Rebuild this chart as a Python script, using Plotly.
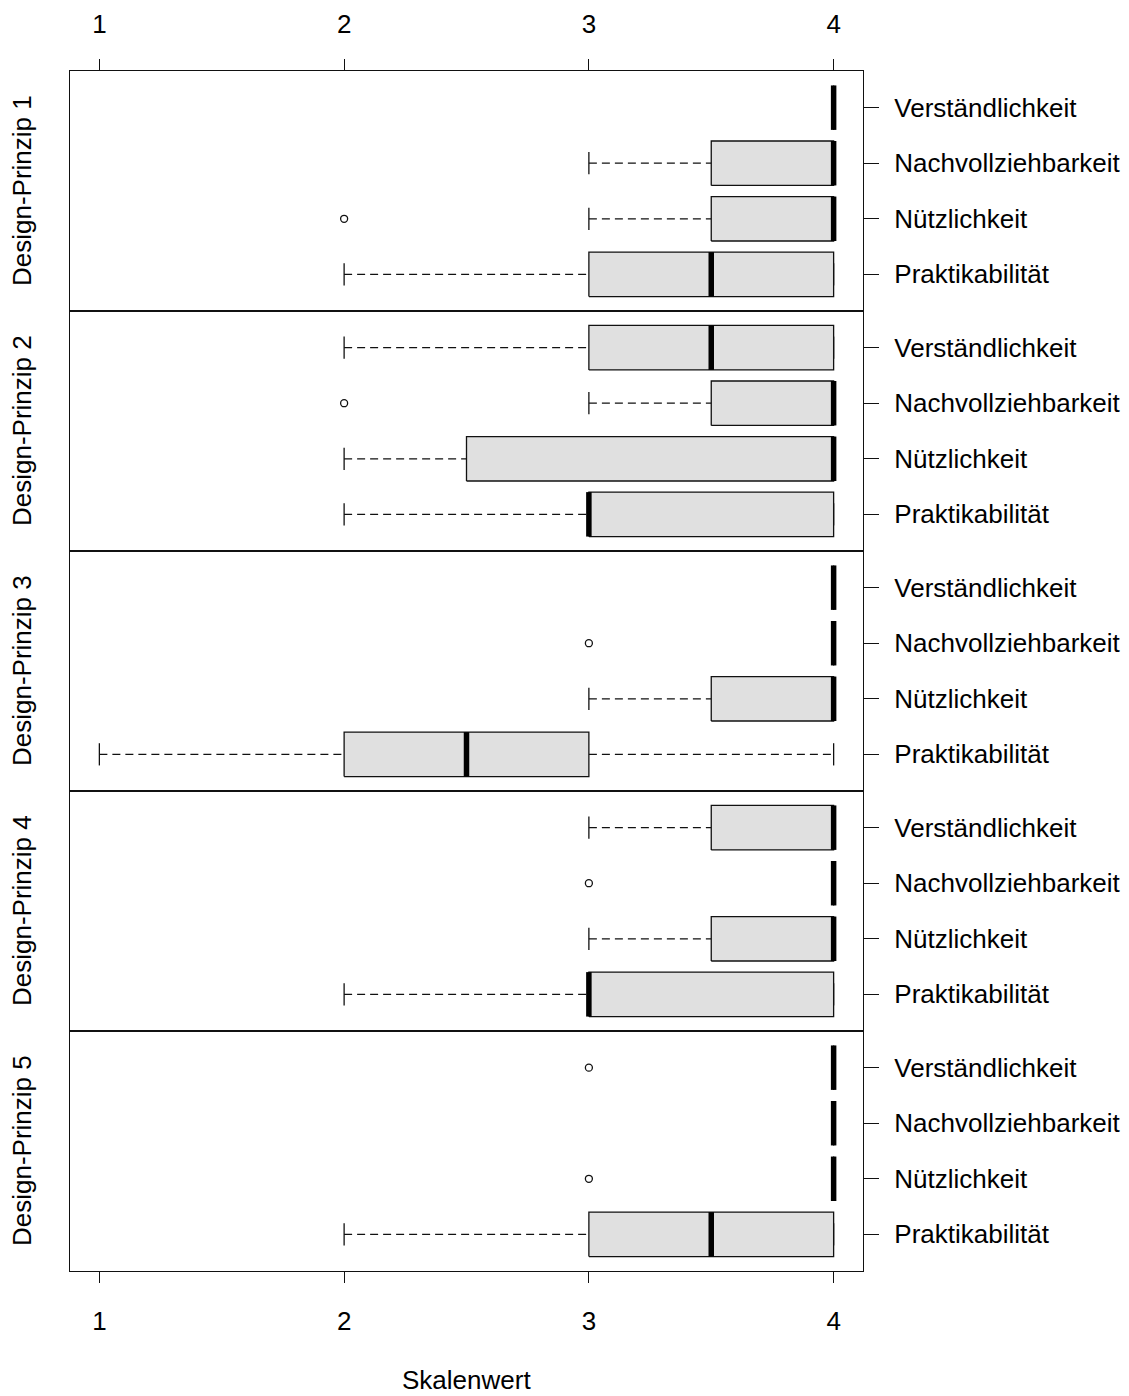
import plotly.graph_objects as go
from plotly.subplots import make_subplots

# ---------------- data ----------------
panels = ["Design-Prinzip 1", "Design-Prinzip 2", "Design-Prinzip 3",
          "Design-Prinzip 4", "Design-Prinzip 5"]
# categories from bottom (position 1) to top (position 4)
items = ["Praktikabilität", "Nützlichkeit", "Nachvollziehbarkeit", "Verständlichkeit"]

whisker_lo = [[2, 3, 3, 4], [2, 2, 3, 2], [1, 3, 4, 4], [2, 3, 4, 3], [2, 4, 4, 4]]
q1         = [[3, 3.5, 3.5, 4], [3, 2.5, 3.5, 3], [2, 3.5, 4, 4], [3, 3.5, 4, 3.5], [3, 4, 4, 4]]
median     = [[3.5, 4, 4, 4], [3, 4, 4, 3.5], [2.5, 4, 4, 4], [3, 4, 4, 4], [3.5, 4, 4, 4]]
q3         = [[4, 4, 4, 4], [4, 4, 4, 4], [3, 4, 4, 4], [4, 4, 4, 4], [4, 4, 4, 4]]
whisker_hi = [[4, 4, 4, 4], [4, 4, 4, 4], [4, 4, 4, 4], [4, 4, 4, 4], [4, 4, 4, 4]]
outliers   = [[[], [2], [], []], [[], [], [2], []], [[], [], [3], []],
              [[], [], [3], []], [[], [3], [], [3]]]

x_ticks = [1, 2, 3, 4]
x_title = "Skalenwert"

# ---------------- style ----------------
FONT = "Liberation Sans, Arial, sans-serif"
FS = 26
BOXW = 0.4      # half box width (boxwex 0.8)
STAPLE = 0.2    # half staple length
LINE_C = "#111111"

fig = make_subplots(rows=5, cols=1, vertical_spacing=0)

for p in range(len(panels)):
    row = p + 1
    for i in range(len(items)):
        pos = i + 1
        lo, a, m, b, hi = whisker_lo[p][i], q1[p][i], median[p][i], q3[p][i], whisker_hi[p][i]
        # whiskers (dashed)
        fig.add_trace(go.Scatter(
            x=[lo, a, None, b, hi], y=[pos, pos, None, pos, pos], mode="lines",
            line=dict(color=LINE_C, width=1.3, dash="8px,5px"),
            hoverinfo="skip", showlegend=False), row=row, col=1)
        # staples
        fig.add_trace(go.Scatter(
            x=[lo, lo, None, hi, hi],
            y=[pos - STAPLE, pos + STAPLE, None, pos - STAPLE, pos + STAPLE],
            mode="lines", line=dict(color=LINE_C, width=1.3),
            hoverinfo="skip", showlegend=False), row=row, col=1)
        # box
        fig.add_trace(go.Scatter(
            x=[a, b, b, a, a],
            y=[pos - BOXW, pos - BOXW, pos + BOXW, pos + BOXW, pos - BOXW],
            mode="lines", fill="toself", fillcolor="#e0e0e0",
            line=dict(color=LINE_C, width=1.3),
            hoverinfo="skip", showlegend=False), row=row, col=1)
        # median
        fig.add_trace(go.Scatter(
            x=[m, m], y=[pos - BOXW, pos + BOXW], mode="lines",
            line=dict(color="black", width=5.5),
            hoverinfo="skip", showlegend=False), row=row, col=1)
        # outliers
        if outliers[p][i]:
            fig.add_trace(go.Scatter(
                x=outliers[p][i], y=[pos] * len(outliers[p][i]), mode="markers",
                marker=dict(symbol="circle-open", size=7, color=LINE_C,
                            line=dict(width=1.3)),
                hoverinfo="skip", showlegend=False), row=row, col=1)

    # axes
    xa = dict(range=[0.88, 4.12], showgrid=False, zeroline=False, automargin=False,
              showline=True, mirror=True, linecolor=LINE_C, linewidth=1.3,
              tickvals=x_ticks, ticktext=[str(t) for t in x_ticks])
    if row == 1:
        xa.update(side="top", ticks="outside", ticklen=11, tickwidth=1.3,
                  tickcolor=LINE_C, showticklabels=True, ticklabelstandoff=15,
                  tickfont=dict(family=FONT, size=FS, color="black"))
    elif row == 5:
        xa.update(side="bottom", ticks="outside", ticklen=11, tickwidth=1.3,
                  tickcolor=LINE_C, showticklabels=True, ticklabelstandoff=16,
                  tickfont=dict(family=FONT, size=FS, color="black"))
    else:
        xa.update(ticks="", showticklabels=False)
    fig.update_xaxes(row=row, col=1, **xa)

    fig.update_yaxes(row=row, col=1, range=[0.34, 4.66], side="right",
                     showgrid=False, zeroline=False, showline=True, mirror=True,
                     automargin=False, linecolor=LINE_C, linewidth=1.3,
                     ticks="outside", ticklen=15, tickwidth=1.3, tickcolor=LINE_C,
                     tickvals=[1, 2, 3, 4], ticktext=items, ticklabelstandoff=10,
                     tickfont=dict(family=FONT, size=FS, color="black"))

    # left panel label
    dom = fig.layout["yaxis" + ("" if row == 1 else str(row))].domain
    fig.add_annotation(text=panels[p], xref="paper", yref="paper",
                       x=-0.0605, y=(dom[0] + dom[1]) / 2, textangle=-90,
                       showarrow=False, xanchor="center", yanchor="middle",
                       font=dict(family=FONT, size=FS, color="black"))

fig.add_annotation(text=x_title, xref="paper", yref="paper", x=0.5, y=-0.0905,
                   showarrow=False, xanchor="center", yanchor="middle",
                   font=dict(family=FONT, size=FS, color="black"))

# page body has an 8px margin: shift figure so the plot area lands at x 70-863, y 71-1271
fig.update_layout(width=1121, height=1388,
                  margin=dict(l=62, r=266, t=63, b=125, autoexpand=False),
                  plot_bgcolor="white", paper_bgcolor="white",
                  font=dict(family=FONT, size=FS, color="black"))

fig.write_html("out.html")
